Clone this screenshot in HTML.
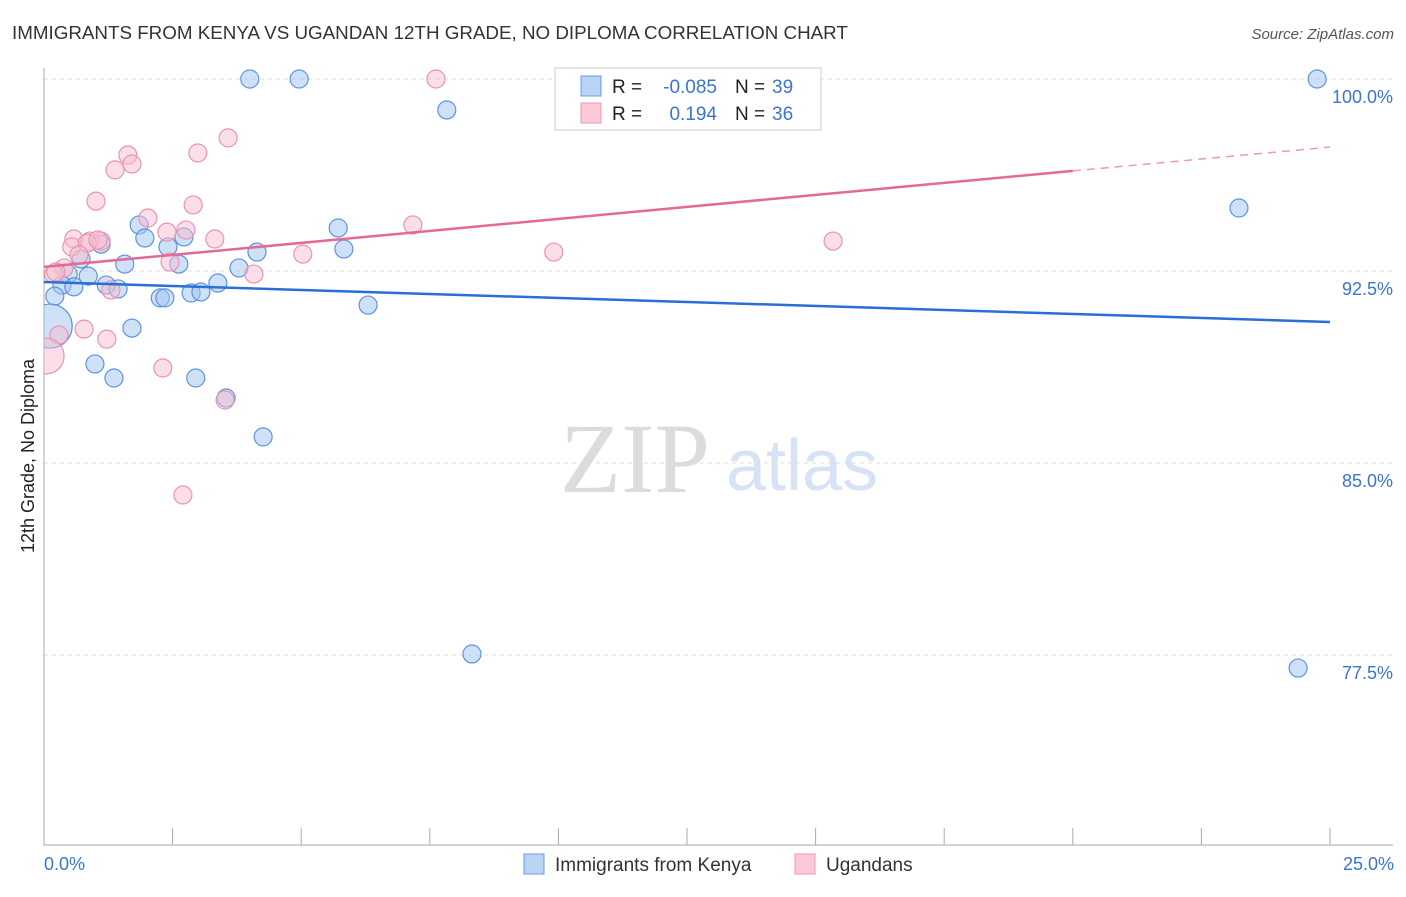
<!DOCTYPE html>
<html><head><meta charset="utf-8"><style>
body{margin:0;background:#fff;font-family:"Liberation Sans",sans-serif}
</style></head><body>
<svg id="c" width="1406" height="892" xmlns="http://www.w3.org/2000/svg" font-family="Liberation Sans, sans-serif">
<defs><clipPath id="pa"><rect x="44" y="60" width="1360" height="785"/></clipPath></defs>
<text x="12" y="39" font-size="18.8" fill="#333">IMMIGRANTS FROM KENYA VS UGANDAN 12TH GRADE, NO DIPLOMA CORRELATION CHART</text>
<text x="1394" y="39" font-size="15" fill="#555" text-anchor="end" font-style="italic">Source: ZipAtlas.com</text>
<text x="0" y="0" font-size="18" fill="#222" transform="translate(34,456) rotate(-90)" text-anchor="middle">12th Grade, No Diploma</text>
<text x="635" y="492" font-size="100" fill="#dcdcdc" style="font-family:'Liberation Serif',serif" text-anchor="middle">ZIP</text>
<text x="802" y="490" font-size="72" fill="#d6e3f5" text-anchor="middle">atlas</text>
<g id="grid"></g><g id="axes"></g><g id="pts" clip-path="url(#pa)"></g><g id="lines"></g>
<g>
<rect x="555" y="68" width="266" height="62" fill="#fff" stroke="#ccc"/>
<rect x="581" y="76" width="20" height="20" fill="#b9d3f5" stroke="#6a9be0"/>
<rect x="581" y="103" width="20" height="20" fill="#fbc9d8" stroke="#e899b2"/>
<text x="612" y="93" font-size="19" fill="#222">R =</text>
<text x="717" y="93" font-size="19" fill="#3a74d4" text-anchor="end">-0.085</text>
<text x="735" y="93" font-size="19" fill="#222">N =</text>
<text x="772" y="93" font-size="19" fill="#3a74d4">39</text>
<text x="612" y="120" font-size="19" fill="#222">R =</text>
<text x="717" y="120" font-size="19" fill="#3a74d4" text-anchor="end">0.194</text>
<text x="735" y="120" font-size="19" fill="#222">N =</text>
<text x="772" y="120" font-size="19" fill="#3a74d4">36</text>
</g>
<g>
<rect x="524" y="854" width="20" height="20" fill="#b9d3f5" stroke="#6a9be0"/>
<text x="555" y="871" font-size="19" fill="#333">Immigrants from Kenya</text>
<rect x="795" y="854" width="20" height="20" fill="#fbc9d8" stroke="#e899b2"/>
<text x="826" y="871" font-size="19" fill="#333">Ugandans</text>
</g>
<text x="44" y="870" font-size="18" fill="#3a74d4">0.0%</text>
<text x="1394" y="870" font-size="18" fill="#3a74d4" text-anchor="end">25.0%</text>
</svg>
<script>
const yTicks=[100,92.5,85,77.5];
const yTickLabels=["100.0%","92.5%","85.0%","77.5%"];
const kenyaX=[4.00,4.96,7.83,24.75,23.23,1.85,5.72,1.96,2.72,1.11,2.41,4.14,5.83,1.57,2.62,3.79,0.72,0.86,0.47,3.38,1.21,1.44,0.35,0.58,2.26,2.35,2.86,3.05,0.21,6.30,1.71,0.12,0.99,1.36,2.95,3.54,4.26,8.32,24.38];
const kenyaY=[100,100,98.79,100,94.96,94.30,94.18,93.79,93.83,93.55,93.44,93.24,93.36,92.77,92.77,92.62,92.97,92.30,92.38,92.03,91.95,91.80,91.95,91.88,91.45,91.45,91.64,91.68,91.52,91.17,90.27,90.35,88.87,88.32,88.32,87.54,86.02,77.54,76.99];
const kenyaBig=[31];
const ugX=[7.62,3.58,1.63,2.99,1.71,1.38,1.01,2.02,2.90,2.39,0.58,0.54,0.89,1.11,0.84,3.32,7.17,5.03,9.91,15.34,0.68,2.45,0.39,0.19,4.08,1.30,0.78,0.29,1.22,2.31,3.52,2.70,0.04,0.23,1.05,2.76];
const ugY=[100,97.70,97.03,97.11,96.68,96.45,95.23,94.57,95.08,94.02,93.75,93.44,93.67,93.67,93.59,93.75,94.30,93.16,93.24,93.67,93.13,92.85,92.62,92.38,92.38,91.76,90.23,90.00,89.84,88.71,87.46,83.75,89.18,92.46,93.71,94.10];
const ugBig=[32];
const kenyaLine=[92.07,90.51];
const ugLine=[92.66,96.41,97.34];
const X=v=>44+v*51.44, Y=v=>79+(100-v)*25.6;
const NS="http://www.w3.org/2000/svg";
function mk(tag,parent,attrs){const e=document.createElementNS(NS,tag);for(const k in attrs)e.setAttribute(k,attrs[k]);document.getElementById(parent).appendChild(e);return e;}
yTicks.forEach((t,i)=>{
 const l=mk('line','grid',{x1:44,x2:1393,y1:Y(t),y2:Y(t),stroke:'#ddd','stroke-dasharray':'4,4'});
 
 
 const tx=mk('text','grid',{x:1393,y:Y(t)+24,'font-size':18,fill:'#3a74d4','text-anchor':'end'});
 tx.textContent=yTickLabels[i];
 
 
});
const ya=mk('line','axes',{x1:44,x2:44,y1:68,y2:845,stroke:'#aaa'});


const xa=mk('line','axes',{x1:44,x2:1393,y1:845,y2:845,stroke:'#aaa'});


for(let i=1;i<=10;i++){const t=mk('line','axes',{x1:X(i*2.5),x2:X(i*2.5),y1:828,y2:845,stroke:'#aaa'});
 
 }
kenyaX.forEach((x,i)=>{const c=mk('circle','pts',{cx:X(x),cy:Y(kenyaY[i]),r:kenyaBig.includes(i)?22:9,fill:'rgba(160,196,240,0.5)',stroke:'#5e93de','stroke-width':1.2});
 
 });
ugX.forEach((x,i)=>{const c=mk('circle','pts',{cx:X(x),cy:Y(ugY[i]),r:ugBig.includes(i)?18:9,fill:'rgba(248,190,208,0.5)',stroke:'#e894b0','stroke-width':1.2});
 
 });
const bl=mk('line','lines',{x1:X(0),y1:Y(kenyaLine[0]),x2:X(25),y2:Y(kenyaLine[1]),stroke:'#2a6fd6','stroke-width':2.5});


const pl=mk('line','lines',{x1:X(0),y1:Y(ugLine[0]),x2:X(20),y2:Y(ugLine[1]),stroke:'#e46a96','stroke-width':2.5});


const pd=mk('line','lines',{x1:X(20),y1:Y(ugLine[1]),x2:X(25),y2:Y(ugLine[2]),stroke:'#e89ab4','stroke-width':1.5,'stroke-dasharray':'8,6'});


</script>
</body></html>
